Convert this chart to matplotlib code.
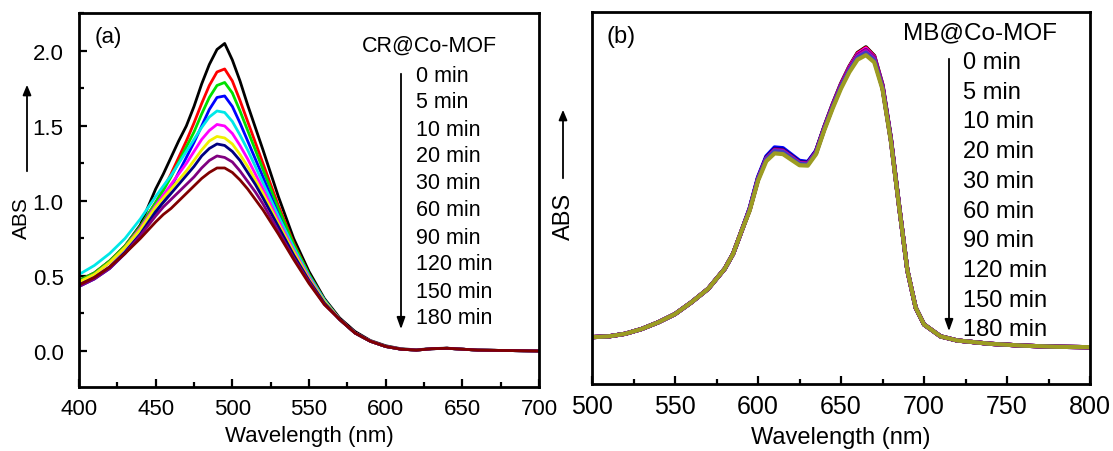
import matplotlib
matplotlib.use("Agg")
import matplotlib.pyplot as plt
from matplotlib.ticker import MultipleLocator
from matplotlib.patches import FancyArrowPatch

plt.rcParams['font.family'] = ['Liberation Sans', 'DejaVu Sans']

W, H = 1113, 452

# Panel (a): CR@Co-MOF spectra
wl_a = [400, 410, 420, 430, 440, 450, 455, 460, 465, 470, 475, 480, 485, 490, 495,
        500, 505, 510, 515, 520, 530, 540, 550, 560, 570, 580, 590, 600, 610, 620,
        630, 640, 650, 660, 680, 700]
tail_a = [0.21, 0.12, 0.065, 0.03, 0.012, 0.006, 0.015, 0.018, 0.012, 0.006, 0.003, 0.0]

cr_0 = [0.47, 0.52, 0.60, 0.70, 0.84, 1.08, 1.18, 1.29, 1.40, 1.50, 1.63, 1.78, 1.91, 2.01, 2.05,
        1.94, 1.80, 1.64, 1.49, 1.34, 1.03, 0.75, 0.53, 0.35,
        0.22, 0.13, 0.07, 0.035, 0.015, 0.008, 0.016, 0.019, 0.012, 0.006, 0.003, 0.0]
cr_5 = [0.47, 0.52, 0.60, 0.70, 0.83, 0.99, 1.08, 1.18, 1.29, 1.40, 1.52, 1.65, 1.77, 1.86, 1.88,
        1.80, 1.67, 1.53, 1.39, 1.25, 0.97, 0.72, 0.51, 0.34] + tail_a
cr_10 = [0.47, 0.52, 0.60, 0.70, 0.83, 0.99, 1.07, 1.16, 1.26, 1.36, 1.46, 1.58, 1.69, 1.77, 1.79,
         1.72, 1.60, 1.47, 1.34, 1.21, 0.95, 0.71, 0.51, 0.34] + tail_a
cr_20 = [0.43, 0.48, 0.55, 0.65, 0.77, 0.92, 1.00, 1.09, 1.19, 1.29, 1.39, 1.50, 1.61, 1.69, 1.70,
         1.63, 1.52, 1.40, 1.28, 1.16, 0.91, 0.68, 0.48, 0.32] + tail_a
cr_30 = [0.51, 0.57, 0.65, 0.75, 0.88, 1.03, 1.10, 1.17, 1.25, 1.33, 1.41, 1.49, 1.56, 1.60, 1.59,
         1.53, 1.44, 1.34, 1.23, 1.12, 0.90, 0.69, 0.50, 0.34] + tail_a
cr_60 = [0.46, 0.51, 0.59, 0.69, 0.82, 0.97, 1.04, 1.11, 1.18, 1.25, 1.33, 1.41, 1.47, 1.51, 1.50,
         1.45, 1.37, 1.28, 1.18, 1.08, 0.87, 0.67, 0.49, 0.33] + tail_a
cr_90 = [0.46, 0.51, 0.59, 0.69, 0.81, 0.96, 1.02, 1.08, 1.14, 1.20, 1.27, 1.34, 1.40, 1.43, 1.42,
         1.38, 1.31, 1.23, 1.14, 1.05, 0.85, 0.66, 0.48, 0.33] + tail_a
cr_120 = [0.44, 0.49, 0.56, 0.66, 0.78, 0.93, 0.99, 1.05, 1.11, 1.17, 1.23, 1.30, 1.35, 1.38, 1.37,
          1.33, 1.27, 1.19, 1.11, 1.02, 0.83, 0.64, 0.47, 0.32] + tail_a
cr_150 = [0.43, 0.48, 0.55, 0.65, 0.77, 0.90, 0.96, 1.01, 1.06, 1.11, 1.16, 1.22, 1.27, 1.30, 1.29,
          1.26, 1.20, 1.13, 1.06, 0.98, 0.80, 0.62, 0.46, 0.31] + tail_a
cr_180 = [0.44, 0.49, 0.56, 0.65, 0.75, 0.86, 0.91, 0.95, 1.00, 1.05, 1.10, 1.15, 1.19, 1.22, 1.22,
          1.19, 1.14, 1.08, 1.01, 0.94, 0.78, 0.61, 0.45, 0.31] + tail_a

cr_series = [cr_0, cr_5, cr_10, cr_20, cr_30, cr_60, cr_90, cr_120, cr_150, cr_180]
cr_colors = ['#000000', '#ff0000', '#00e000', '#0000ff', '#00e8e8', '#ff00ff',
             '#f0f000', '#000080', '#800080', '#800000']

# Panel (b): MB@Co-MOF spectra
wl_b = [500, 510, 520, 530, 540, 550, 560, 570, 580, 585, 590,
        595, 600, 605, 610, 615, 620, 625, 630, 635, 640, 645, 650, 655, 660, 665, 670, 675, 680, 685,
        690, 695, 700, 710, 720, 740, 760, 780, 800]
left_b = [0.126, 0.128, 0.135, 0.148, 0.166, 0.188, 0.220, 0.256, 0.310, 0.350, 0.410]
right_b = [0.305, 0.205, 0.160, 0.128, 0.117, 0.108, 0.103, 0.100, 0.099]

mb_0 = left_b + [0.470, 0.552, 0.607, 0.630, 0.628, 0.612, 0.596, 0.594, 0.626, 0.692, 0.752, 0.807,
                 0.853, 0.890, 0.905, 0.882, 0.804, 0.662, 0.480] + right_b
mb_5 = left_b + [0.470, 0.551, 0.606, 0.629, 0.627, 0.611, 0.595, 0.593, 0.625, 0.690, 0.750, 0.805,
                 0.851, 0.888, 0.903, 0.880, 0.802, 0.660, 0.479] + right_b
mb_10 = left_b + [0.473, 0.556, 0.612, 0.636, 0.634, 0.617, 0.600, 0.597, 0.627, 0.690, 0.749, 0.803,
                  0.848, 0.884, 0.899, 0.877, 0.800, 0.660, 0.479] + right_b
mb_20 = left_b + [0.470, 0.551, 0.606, 0.629, 0.627, 0.611, 0.594, 0.592, 0.623, 0.689, 0.749, 0.804,
                  0.850, 0.886, 0.901, 0.878, 0.801, 0.659, 0.478] + right_b
mb_30 = left_b + [0.471, 0.553, 0.609, 0.632, 0.630, 0.614, 0.597, 0.595, 0.625, 0.689, 0.748, 0.802,
                  0.847, 0.883, 0.897, 0.876, 0.799, 0.658, 0.478] + right_b
mb_60 = left_b + [0.470, 0.552, 0.607, 0.630, 0.628, 0.612, 0.595, 0.593, 0.624, 0.689, 0.748, 0.803,
                  0.848, 0.884, 0.898, 0.876, 0.799, 0.658, 0.478] + right_b
mb_90 = left_b + [0.469, 0.550, 0.605, 0.627, 0.625, 0.609, 0.593, 0.591, 0.622, 0.687, 0.746, 0.800,
                  0.845, 0.880, 0.894, 0.873, 0.797, 0.657, 0.477] + right_b
mb_120 = left_b + [0.470, 0.551, 0.606, 0.628, 0.626, 0.610, 0.594, 0.592, 0.623, 0.688, 0.747, 0.801,
                   0.846, 0.881, 0.895, 0.874, 0.798, 0.657, 0.477] + right_b
mb_150 = left_b + [0.469, 0.550, 0.604, 0.626, 0.624, 0.608, 0.592, 0.590, 0.621, 0.686, 0.745, 0.799,
                   0.843, 0.878, 0.891, 0.871, 0.796, 0.656, 0.477] + right_b
mb_180 = left_b + [0.466, 0.546, 0.599, 0.620, 0.618, 0.603, 0.588, 0.587, 0.618, 0.683, 0.741, 0.794,
                   0.838, 0.872, 0.884, 0.865, 0.792, 0.654, 0.476] + right_b

mb_series = [mb_0, mb_5, mb_10, mb_20, mb_30, mb_60, mb_90, mb_120, mb_150, mb_180]
mb_colors = ['#000000', '#ff0000', '#0000ff', '#ff00ff', '#000080', '#800080',
             '#800000', '#c000c0', '#4040c0', '#9c9c22']

times = ['0 min', '5 min', '10 min', '20 min', '30 min', '60 min',
         '90 min', '120 min', '150 min', '180 min']


def px(x, y):
    return x / W, 1 - y / H


def style_axes(ax, size, pad):
    for s in ax.spines.values():
        s.set_linewidth(2.0)
    ax.tick_params(which='both', direction='in', top=False, right=False,
                   width=1.6, labelsize=size, pad=pad)
    ax.tick_params(which='major', length=6)
    ax.tick_params(which='minor', length=3.5)


def down_arrow(x, y0, y1, head=7):
    fig.add_artist(FancyArrowPatch(
        px(x, y0), px(x, y1), transform=fig.transFigure,
        arrowstyle=f'-|>,head_length={head},head_width=2.5', color='black', lw=1.3))


fig = plt.figure(figsize=(W / 100, H / 100), dpi=100)

# (a)
ax1 = fig.add_axes([79 / W, (H - 388) / H, 460 / W, 374 / H])
for ys, c in zip(cr_series, cr_colors):
    ax1.plot(wl_a, ys, color=c, lw=2.0)
ax1.set_xlim(400, 700)
ax1.set_ylim(-0.24, 2.253)
ax1.xaxis.set_major_locator(MultipleLocator(50))
ax1.xaxis.set_minor_locator(MultipleLocator(25))
ax1.yaxis.set_major_locator(MultipleLocator(0.5))
ax1.yaxis.set_minor_locator(MultipleLocator(0.25))
ax1.yaxis.set_major_formatter(plt.FormatStrFormatter('%.1f'))
style_axes(ax1, 16, 8)
ax1.tick_params(axis='y', pad=11)
ax1.set_xlabel('Wavelength (nm)', fontsize=16, labelpad=4)

# (b)
ax2 = fig.add_axes([592 / W, (H - 385) / H, 498 / W, 372 / H])
for ys, c in zip(mb_series, mb_colors):
    ax2.plot(wl_b, ys, color=c, lw=3.0)
ax2.set_xlim(500, 800)
ax2.set_ylim(0, 1)
ax2.xaxis.set_major_locator(MultipleLocator(50))
ax2.xaxis.set_minor_locator(MultipleLocator(25))
ax2.set_yticks([])
style_axes(ax2, 18, 7)
ax2.set_xlabel('Wavelength (nm)', fontsize=17, labelpad=6)

# y labels with arrows
fig.text(*px(21, 218), 'ABS', rotation=90, ha='center', va='center', fontsize=15)
down_arrow(27, 175, 83, head=6)
fig.text(*px(564, 216), 'ABS', rotation=90, ha='center', va='center', fontsize=17)
down_arrow(563, 182, 108, head=6)

fig.text(*px(95, 37), '(a)', ha='left', va='center', fontsize=16)
fig.text(*px(607, 37), '(b)', ha='left', va='center', fontsize=17)

# in-plot legends
fig.text(*px(362, 46), 'CR@Co-MOF', ha='left', va='center', fontsize=15.5)
for k, t in enumerate(times):
    fig.text(*px(416, 76 + 27 * k), t, ha='left', va='center', fontsize=15.5)
down_arrow(401, 72, 333)

fig.text(*px(903, 33), 'MB@Co-MOF', ha='left', va='center', fontsize=17.5)
for k, t in enumerate(times):
    fig.text(*px(963, 63 + 29.7 * k), t, ha='left', va='center', fontsize=17)
down_arrow(949, 57, 335)

fig.savefig('out.png', dpi=100)
